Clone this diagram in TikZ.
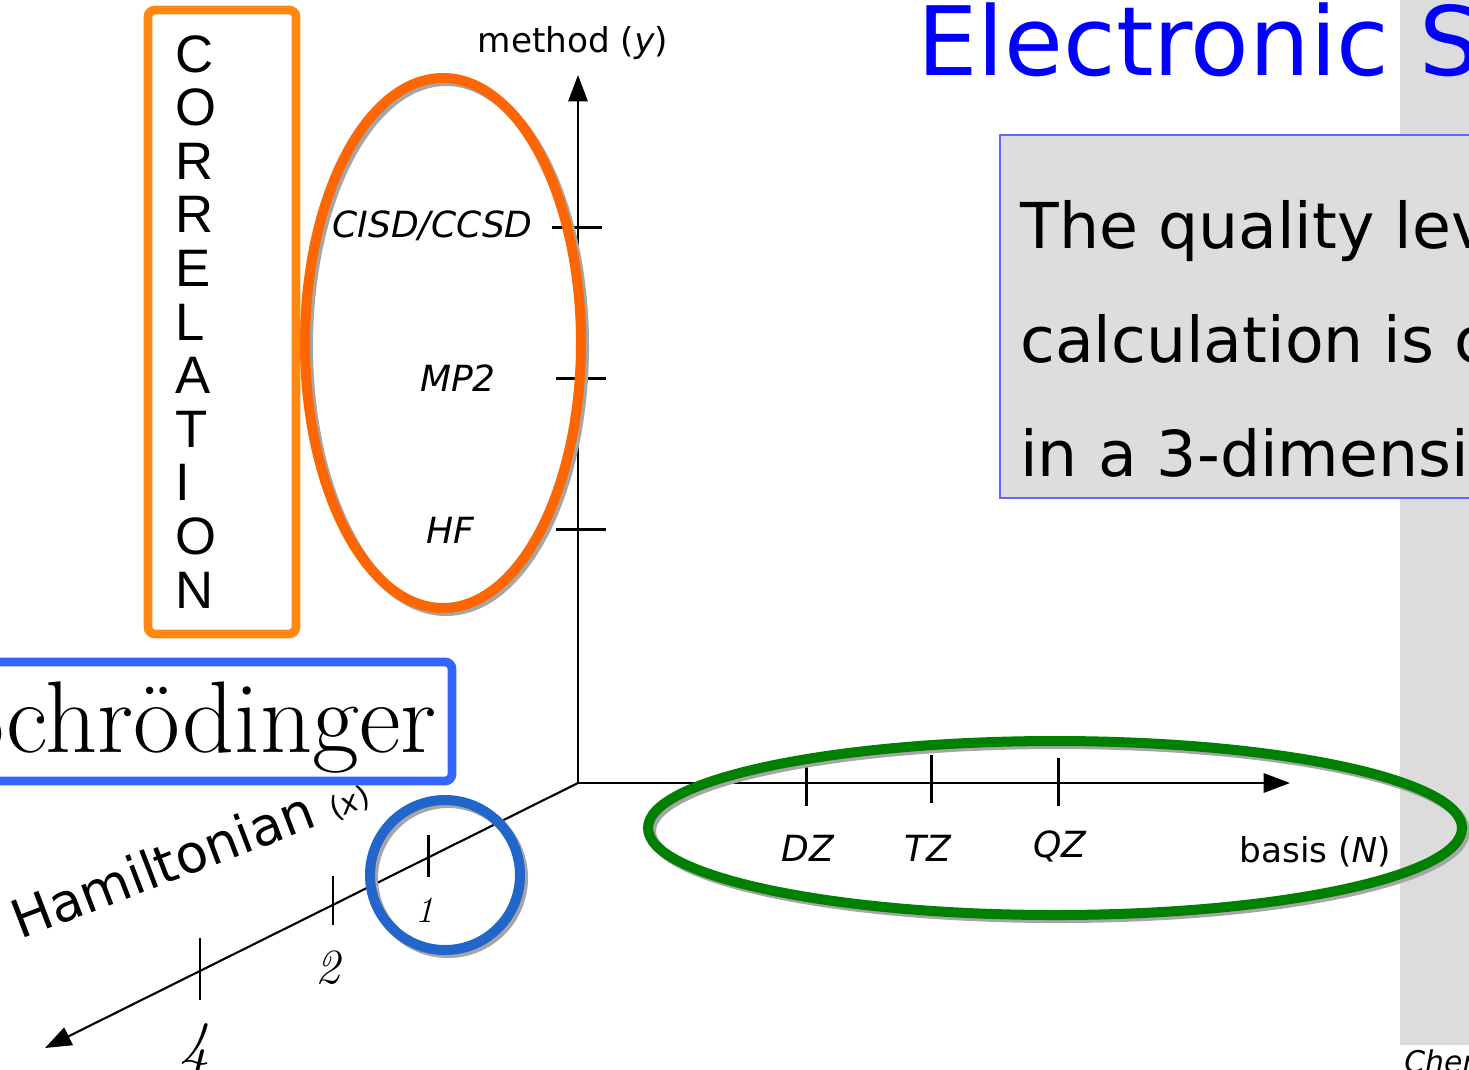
\documentclass[tikz,border=0pt]{standalone}
\usepackage{fontspec}
\usepackage{tikz}
\usetikzlibrary{arrows.meta,positioning}
\newfontfamily\dejavu{DejaVu Sans}
\newfontfamily\arialsub{Liberation Sans}
\definecolor{SlideBlue}{HTML}{0000FF}
\definecolor{SlideFrame}{HTML}{6666FF}
\definecolor{SlideGray}{HTML}{DCDCDC}
\definecolor{BoxGray}{HTML}{DDDDDD}
\definecolor{MarkOrange}{HTML}{FF8811}
\definecolor{MarkRed}{HTML}{FF6600}
\definecolor{MarkBlue}{HTML}{3366FF}
\definecolor{MarkSky}{HTML}{2266CC}
\definecolor{MarkGreen}{HTML}{008000}

\begin{document}
\begin{tikzpicture}[x=0.02cm, y=-0.02cm,
  axis/.style={line width=1.2pt, draw=black, -{Triangle[length=15pt, width=11pt]}},
  tickmark/.style={line width=1.7pt},
  ticklabel/.style={font=\dejavu\itshape\fontsize{20.5}{20.5}\selectfont, inner sep=0pt},
  axislabel/.style={font=\dejavu\fontsize{19.5}{19.5}\selectfont, inner sep=0pt},
  numlabel/.style={font=\itshape\fontsize{#1}{#1}\selectfont, inner sep=0pt},
  quality/.style={anchor=base west, inner sep=0pt, font=\dejavu\fontsize{36}{36}\selectfont},
  ring/.style={line width=5.7pt, draw=#1},
  ringshadow/.style={line width=5.7pt, draw=black!35},
  frame/.style={line width=5pt, rounded corners=4pt, draw=#1}
]
  \useasboundingbox (0,0) rectangle (1469,1069);
  \clip (0,0) rectangle (1469,1069);

  \fill[SlideGray] (1400,0) rectangle (1469,1045);

  \node[anchor=base west, inner sep=0pt, text=SlideBlue,
        font=\dejavu\fontsize{54.5}{54.5}\selectfont] (title) at (917,75) {Electronic S};

  \draw[SlideFrame, fill=BoxGray, line width=0.6pt] (1000,135) rectangle (1490,498);
  \node[quality] (q1) at (1020,248) {The quality lev};
  \node[quality] (q2) at (1020,362) {calculation is c};
  \node[quality] (q3) at (1020,476) {in a 3-dimensi};

  \node[anchor=base west, inner sep=0pt, font=\dejavu\itshape\fontsize{17}{17}\selectfont]
        (chem) at (1404,1072) {Cher};

  \draw[frame=MarkOrange] (148,10) rectangle (296,634);
  \node[anchor=north west, align=left, inner sep=0pt,
        font=\arialsub\fontsize{30}{30.5}\selectfont] (corr) at (175,35)
        {C\\O\\R\\R\\E\\L\\A\\T\\I\\O\\N};

  \coordinate (origin) at (578,783);
  \coordinate (ytip) at (578,75);
  \coordinate (xtip) at (1290,783);
  \coordinate (htip) at (45,1048);
  \draw[axis] (origin) -- (ytip);
  \draw[axis] (origin) -- (xtip);
  \draw[axis] (origin) -- (htip);

  \draw[tickmark] (552,227) -- (602,227);
  \draw[tickmark] (556,378) -- (606,378);
  \draw[tickmark] (556,529) -- (606,529);
  \draw[tickmark] (806,758) -- (806,806);
  \draw[tickmark] (931,755) -- (931,803);
  \draw[tickmark] (1058,758) -- (1058,806);
  \draw[tickmark] (428,835) -- (428,877);
  \draw[tickmark] (333,876) -- (333,925);
  \draw[tickmark] (200,938) -- (200,1000);

  \node[axislabel, anchor=base] (ylbl) at (573,52) {method (\textit{y})};
  \node[ticklabel, anchor=east] (cisd) at (533,226) {CISD/CCSD};
  \node[ticklabel] (mp2) at (458,378) {MP2};
  \node[ticklabel] (hf) at (450,530) {HF};
  \node[ticklabel] (dz) at (808,848) {DZ};
  \node[ticklabel] (tz) at (928,848) {TZ};
  \node[ticklabel] (qz) at (1060,846) {QZ};
  \node[axislabel] (xlbl) at (1315,852) {basis (\textit{N})};

  \node[numlabel=21] (n1) at (425,910) {1};
  \node[numlabel=28] (n2) at (328,968) {2};
  \node[numlabel=35] (n4) at (195,1050) {4};
  \node[rotate=21, anchor=base west, inner sep=0pt,
        font=\dejavu\fontsize{30}{30}\selectfont] (hlbl) at (20,940)
        {Hamiltonian {\fontsize{17}{17}\selectfont(\textit{x})}};

  \draw[ringshadow] (446,346) ellipse [x radius=138, y radius=265];
  \draw[ring=MarkRed] (443,343) ellipse [x radius=138, y radius=265];

  \draw[ringshadow] (1058,831) ellipse [x radius=407, y radius=87];
  \draw[ring=MarkGreen] (1055,828) ellipse [x radius=407, y radius=87];

  \draw[ringshadow] (448,878) circle [radius=75];
  \draw[ring=MarkSky] (445,875) circle [radius=75];

  \draw[frame=MarkBlue] (-10,662) rectangle (452,781);
  \node[anchor=base east, inner sep=0pt, font=\fontsize{58}{58}\selectfont]
        (schr) at (437,752) {Schrödinger};
\end{tikzpicture}
\end{document}
